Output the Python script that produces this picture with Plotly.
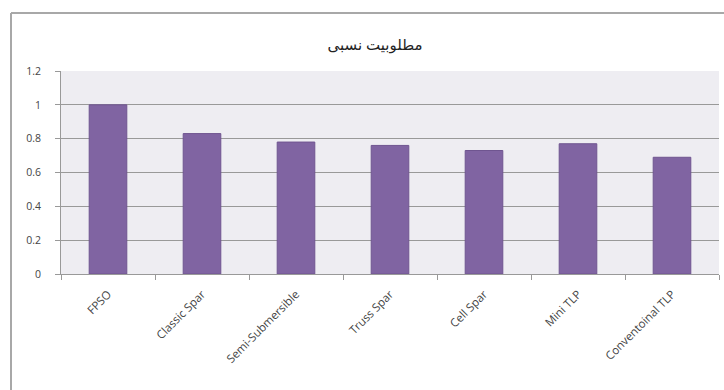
import plotly.graph_objects as go

categories = ["FPSO", "Classic Spar", "Semi-Submersible", "Truss Spar", "Cell Spar", "Mini TLP", "Conventoinal TLP"]
values = [1.0, 0.83, 0.78, 0.76, 0.73, 0.77, 0.69]
title_text = "مطلوبیت نسبی"
y_ticks = [0, 0.2, 0.4, 0.6, 0.8, 1, 1.2]
y_tick_labels = ["0", "0.2", "0.4", "0.6", "0.8", "1", "1.2"]

W, H = 724, 390
ml, mr, mt, mb = 61, 5, 71, 116

fig = go.Figure()
fig.add_trace(go.Bar(
    x=categories, y=values,
    marker=dict(color="#8064A2", line=dict(color="#6f5590", width=1)),
    width=0.4,
))

fig.update_layout(
    width=W, height=H,
    margin=dict(l=ml, r=mr, t=mt, b=mb, pad=0),
    paper_bgcolor="white",
    plot_bgcolor="#EEEDF2",
    showlegend=False,
    title=dict(text=title_text, xref="container", x=375 / W, xanchor="center",
               y=1 - 45 / H, yanchor="middle",
               font=dict(family="Noto Sans, DejaVu Sans", size=15, color="#222")),
    font=dict(family="Open Sans, DejaVu Sans", size=10, color="#444"),
)
fig.update_xaxes(
    type="category", tickangle=-45, tickson="boundaries",
    ticks="outside", ticklen=5, tickcolor="#999",
    showline=True, linecolor="#999", linewidth=1,
    showgrid=False, tickfont=dict(size=11.5, color="#444"),
    ticklabelstandoff=8,
)
fig.update_yaxes(
    range=[0, 1.2], tickvals=y_ticks, ticktext=y_tick_labels,
    ticks="outside", ticklen=5, tickcolor="#999",
    showline=True, linecolor="#999", linewidth=1,
    showgrid=True, gridcolor="#999", gridwidth=1,
    zeroline=False, tickfont=dict(size=10.5, color="#444"),
    ticklabelstandoff=12,
)

# outer chart border (top and left edges visible)
pw = W - ml - mr
ph = H - mt - mb
def px_x(p):
    return (p - ml) / pw
def px_y(p):
    return (H - mb - p) / ph
fig.add_shape(type="line", xref="paper", yref="paper",
              x0=px_x(11), y0=px_y(13), x1=px_x(W + 5), y1=px_y(13),
              line=dict(color="#A8A8A8", width=2))
fig.add_shape(type="line", xref="paper", yref="paper",
              x0=px_x(11), y0=px_y(13), x1=px_x(11), y1=px_y(H + 5),
              line=dict(color="#A8A8A8", width=2))

fig.write_html("out.html")
